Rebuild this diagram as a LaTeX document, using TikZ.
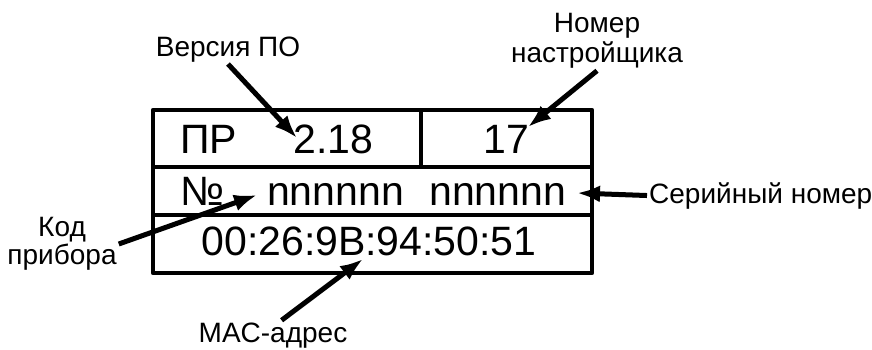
\documentclass[tikz,border=0pt]{standalone}
\usepackage{fontspec}
\setmainfont{Liberation Sans}
\usetikzlibrary{arrows.meta}

\tikzset{
  cell/.style={font=\fontsize{41}{48}\selectfont,inner sep=0pt},
  note/.style={font=\fontsize{28}{29}\selectfont,inner sep=2pt,align=center},
  pointer/.style={line width=5pt,-{Latex[length=23pt,width=17pt]}},
}

\begin{document}
\begin{tikzpicture}[x=1pt,y=-1pt,line join=round]
  \useasboundingbox (0,0) rectangle (872,349);
  % plate
  \draw[line width=4.3pt] (153,110) rectangle (592,273);
  \draw[line width=3.6pt] (153,167) -- (592,167);
  \draw[line width=3.6pt] (153,215) -- (592,215);
  \draw[line width=3.6pt] (421,110) -- (421,167);
  % plate texts
  \node[cell,anchor=base west] (pr) at (180,153) {ПР};
  \node[cell,anchor=base west] (ver) at (293,153) {2.18};
  \node[cell,anchor=base] (tuner) at (506,153) {17};
  \node[cell,anchor=base west] (no) at (180,205) {№};
  \node[cell,anchor=base west] (code) at (267,205) {nnnnnn};
  \node[cell,anchor=base west] (serial) at (429,205) {nnnnnn};
  \node[cell,anchor=base] (mac) at (369,255) {00:26:9B:94:50:51};
  % labels
  \node[note,anchor=base] (verLbl) at (228,56) {Версия ПО};
  \node[note,font=\fontsize{28}{30}\selectfont] (tunerLbl) at (597,41) {Номер\\настройщика};
  \node[note,anchor=base west] (serialLbl) at (647,203) {Серийный номер};
  \node[note,font=\fontsize{28}{28}\selectfont] (codeLbl) at (62,244) {Код\\прибора};
  \node[note,anchor=base] (macLbl) at (273,342) {MAC-адрес};
  % arrow tips
  \coordinate (verTip) at (297,138);
  \coordinate (tunerTip) at (528,127);
  \coordinate (serialTip) at (577,193);
  \coordinate (codeTip) at (257,195);
  \coordinate (macTip) at (363,259);
  \draw[pointer] (verLbl.south) -- (verTip);
  \draw[pointer] (tunerLbl.south) -- (tunerTip);
  \draw[pointer] (serialLbl.west) -- (serialTip);
  \draw[pointer] (codeLbl.east) -- (codeTip);
  \draw[pointer] (macLbl.60) -- (macTip);
\end{tikzpicture}
\end{document}
